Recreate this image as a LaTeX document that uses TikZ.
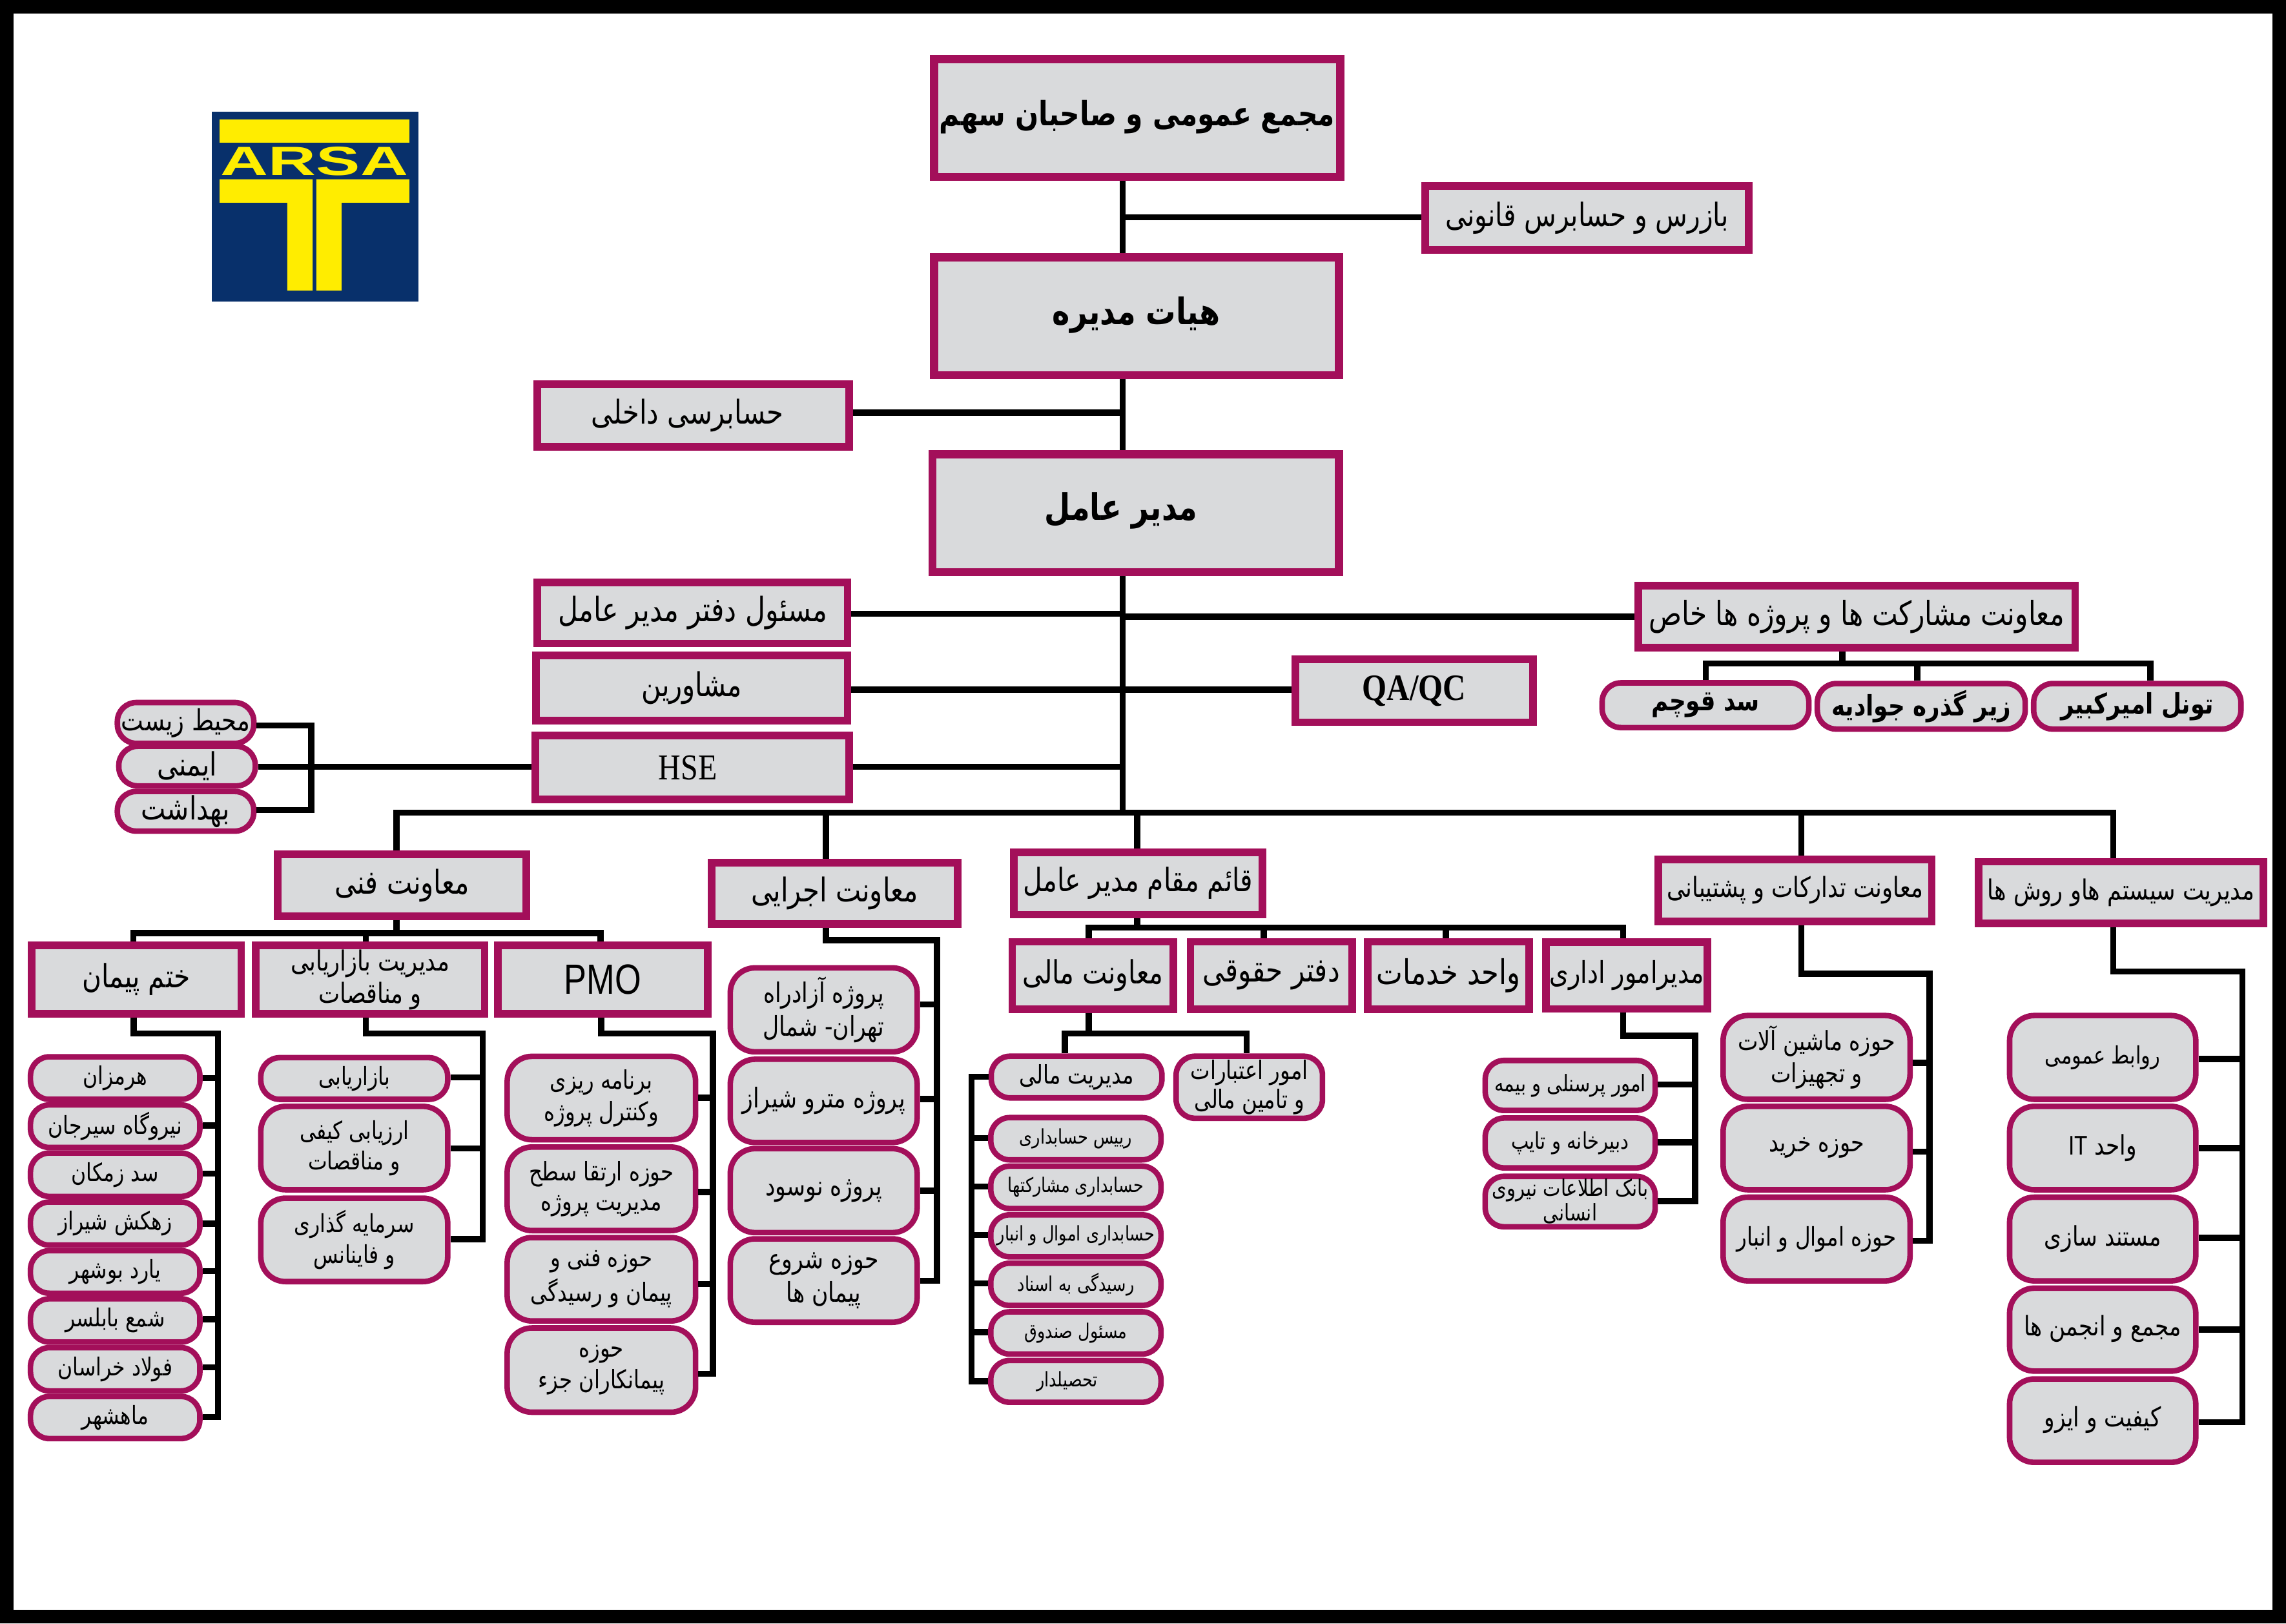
\documentclass[tikz,border=0pt]{standalone}
\usepackage{fontspec}
\setmainfont{Liberation Serif}
\TeXXeTstate=1
\newfontfamily\arabicfont[Script=Arabic,FakeStretch=0.82]{DejaVu Sans}
\newfontfamily\serifcond[FakeStretch=0.85]{Liberation Serif}
\newfontfamily\sanscond[FakeStretch=0.8]{Liberation Sans}
\newfontfamily\logofont{Liberation Sans}
\definecolor{plum}{HTML}{A30F5A}
\definecolor{boxgray}{HTML}{D9DADC}
\definecolor{logoblue}{HTML}{08306B}
\definecolor{logoyellow}{HTML}{FFED00}
\newcommand{\rl}[1]{\beginR #1\endR}
\newcommand{\fs}[1]{\arabicfont\fontsize{#1}{#1}\selectfont}
\newcommand{\dn}[2]{\raisebox{-#1pt}{#2}}
% rectangular box: style, name, x1, y1, x2, y2, text
\newcommand{\rb}[7]{\node[recbox,#1,minimum width={(#5-#3-5.2)*1pt},minimum height={(#6-#4-5.2)*1pt}] (#2) at ({(#3+#5)/2},{(#4+#6)/2}) {#7};}
% rounded box
\newcommand{\pl}[7]{\node[pillbox,#1,minimum width={(#5-#3-3.8)*1pt},minimum height={(#6-#4-3.8)*1pt}] (#2) at ({(#3+#5)/2},{(#4+#6)/2}) {#7};}
% stub from a node's side to a bar
\newcommand{\stubE}[3]{\draw[conn] (#1.east |- 0,#3) -- (#2,#3);}
\newcommand{\stubW}[3]{\draw[conn] (#1.west |- 0,#3) -- (#2,#3);}
\tikzset{
  recbox/.style={draw=plum,fill=boxgray,line width=5.2pt,inner sep=0pt,align=center},
  pillbox/.style={draw=plum,fill=boxgray,line width=3.8pt,inner sep=0pt,align=center,rounded corners=13pt},
  tall/.style={rounded corners=17pt},
  conn/.style={draw=black,line width=4.2pt},
  huge/.style={font=\fs{25}\bfseries,line width=5.6pt},
  fz/.style={font=\fs{#1}},
  big/.style={font=\fs{22.5}},
  mid/.style={font=\fs{19}},
  bolds/.style={font=\fs{19.3}\bfseries},
  small/.style={font=\fs{17}},
  tinier/.style={font=\fs{13.8}}
}
\begin{document}
\begin{tikzpicture}[x=1pt,y=-1pt]
\useasboundingbox (0,0) rectangle (1568,1113.6);
\draw[line width=9.5pt] (4.75,4.75) rectangle (1563.25,1108.85);
% logo
\fill[logoblue] (145.3,76.6) rectangle (287,206.8);
\fill[logoyellow] (150.6,81.8) rectangle (280.8,97.9);
\fill[logoyellow] (150.6,123) -- (214.4,123) -- (214.4,199.3) -- (197,199.3) -- (197,139) -- (150.6,139) -- cycle;
\fill[logoyellow] (280.8,123) -- (217,123) -- (217,199.3) -- (234.3,199.3) -- (234.3,139) -- (280.8,139) -- cycle;
\node[inner sep=0pt,text=logoyellow,font=\logofont\bfseries\fontsize{28}{28}\selectfont] (logotext) at (215.7,110.8) {\scalebox{1.62}[1]{ARSA}};
% top boxes
\rb{huge,font=\fs{22.9}\bfseries}{r1}{638}{38}{922}{124}{\dn{-7}{\rl{مجمع عمومی و صاحبان سهم}}}
\rb{fz=22}{r2}{975}{125}{1202}{174}{\dn{7}{\rl{بازرس و حسابرس قانونی}}}
\rb{huge}{r3}{638}{174}{921}{260}{\dn{-8}{\rl{هیات مدیره}}}
\rb{big}{r4}{366}{261}{585}{309}{\dn{2}{\rl{حسابرسی داخلی}}\hspace{8pt}}
\rb{huge}{r5}{637}{309}{921}{395}{\dn{-9}{\rl{مدیر عامل}}\hspace{20pt}}
\rb{fz=23}{r6}{366}{397}{584}{444}{\dn{7}{\rl{مسئول دفتر مدیر عامل}}}
\rb{big}{r7}{365}{447}{584}{497}{\dn{-5}{\rl{مشاورین}}}
\rb{}{r8}{364.5}{502}{585}{551}{\dn{7}{\serifcond\fontsize{25}{25}\selectfont HSE}\hspace{6pt}}
\rb{}{r9}{886}{449.6}{1054}{498}{\dn{6}{\serifcond\bfseries\fontsize{25.5}{25.5}\selectfont QA/QC}}
\rb{fz=22.8}{r10}{1121}{399}{1426}{447}{\rl{معاونت مشارکت ها و پروژه ها خاص}}
% special project pills
\pl{bolds}{p1}{1097}{466.5}{1242.6}{501}{\dn{3}{\rl{سد قوچم}}}
\pl{bolds}{p2}{1244.6}{467}{1391}{502}{\dn{1}{\rl{زیر گذره جوادیه}}}
\pl{bolds}{p3}{1393}{467}{1539}{502}{\dn{2}{\rl{تونل امیرکبیر}}}
% HSE pills
\pl{fz=20}{h1}{78.6}{480}{176}{511.8}{\rl{محیط زیست}}
\pl{fz=22}{h2}{79.6}{510}{177}{541}{\rl{ایمنی}}
\pl{fz=22}{h3}{78.6}{541}{176}{572}{\rl{بهداشت}}
% second level
\rb{big}{fani}{188}{583.5}{363.7}{631}{\dn{-3}{\rl{معاونت فنی}}}
\rb{big}{ejra}{485.5}{589}{659.6}{636.5}{\rl{معاونت اجرایی}}
\rb{fz=22}{ghaem}{692.8}{582}{868.5}{630}{\rl{قائم مقام مدیر عامل}}
\rb{mid}{tadar}{1134.8}{587}{1327.6}{634.5}{\rl{معاونت تدارکات و پشتیبانی}}
\rb{mid}{sys}{1354.5}{588.5}{1555}{636}{\rl{مدیریت سیستم هاو روش ها}}
% fani children
\rb{fz=22}{khatm}{19}{646}{168}{698}{\rl{ختم پیمان}}
\rb{mid}{bazar}{172.8}{646}{335}{698}{\rl{مدیریت بازاریابی}\\[2pt]\rl{و مناقصات}}
\rb{}{pmo}{339}{646}{488}{698}{\sanscond\fontsize{29}{29}\selectfont PMO}
% khatm pills
\pl{small}{k1}{19}{723}{139}{756}{\rl{هرمزان}}
\pl{small}{k2}{19}{756}{139}{789}{\rl{نیروگاه سیرجان}}
\pl{small}{k3}{19}{789}{139}{822.6}{\rl{سد زمکان}}
\pl{small}{k4}{19}{822.6}{139}{856}{\rl{زهکش شیراز}}
\pl{small}{k5}{19}{856}{139}{889}{\rl{یارد بوشهر}}
\pl{small}{k6}{19}{889}{139}{922.5}{\rl{شمع بابلسر}}
\pl{small}{k7}{19}{922.5}{139}{956}{\rl{فولاد خراسان}}
\pl{small}{k8}{19}{956}{139}{988.7}{\rl{ماهشهر}}
% bazar children
\pl{small}{b1}{177}{723.6}{309}{756}{\rl{بازاریابی}}
\pl{small,tall}{b2}{177}{757}{309}{818}{\rl{ارزیابی کیفی}\\[3pt]\rl{و مناقصات}}
\pl{small,tall}{b3}{177}{820}{309}{881}{\rl{سرمایه گذاری}\\[3pt]\rl{و فاینانس}}
% pmo children
\pl{fz=17.5,tall}{m1}{346}{722.7}{479}{783.7}{\rl{برنامه ریزی}\\[3pt]\rl{وکنترل پروژه}}
\pl{fz=17.5,tall}{m2}{346}{784.9}{479}{846}{\rl{حوزه ارتقا سطح}\\[3pt]\rl{مدیریت پروژه}}
\pl{fz=17.5,tall}{m3}{346}{847}{479}{908}{\rl{حوزه فنی و}\\[3pt]\rl{پیمان و رسیدگی}}
\pl{fz=17.5,tall}{m4}{346}{909}{479}{970.6}{\rl{حوزه}\\[3pt]\rl{پیمانکاران جزء}}
% ejra children
\pl{fz=18.7,tall}{e1}{499}{662}{631}{723.4}{\rl{پروژه آزادراه}\\[3pt]\rl{تهران- شمال}}
\pl{fz=18.7,tall}{e2}{499}{724.7}{631}{785.6}{\dn{-2}{\rl{پروژه مترو شیراز}}}
\pl{fz=18.7,tall}{e3}{499}{786}{631}{847.4}{\dn{-1}{\rl{پروژه نوسود}}}
\pl{fz=18.7,tall}{e4}{499}{847.9}{631}{908.9}{\rl{حوزه شروع}\\[3pt]\rl{پیمان ها}}
% ghaem children
\rb{fz=22}{mali}{691.7}{643.4}{807.5}{694.8}{\rl{معاونت مالی}}
\rb{fz=22.7}{hoghugh}{814}{643.4}{930}{694.8}{\rl{دفتر حقوقی}}
\rb{fz=23.4}{khadamat}{935.6}{643.4}{1051.6}{694.8}{\rl{واحد خدمات}}
\rb{fz=20.5}{edari}{1057.7}{643.6}{1173.8}{694.7}{\rl{مدیرامور اداری}}
% mali children
\pl{fz=17.5}{f0}{678}{722.6}{798.9}{755}{\rl{مدیریت مالی}}
\pl{fz=17.5}{f9}{804.8}{722.6}{909}{769}{\rl{امور اعتبارات}\\[1pt]\rl{و تامین مالی}}
\pl{tinier}{f1}{677.7}{764.7}{798.2}{797.5}{\rl{رییس حسابداری}}
\pl{tinier}{f2}{677.7}{798}{798.2}{830.9}{\rl{حسابداری مشارکتها}}
\pl{tinier}{f3}{677.7}{831.4}{798.2}{864}{\rl{حسابداری اموال و انبار}}
\pl{tinier}{f4}{677.7}{864.6}{798.2}{897.4}{\rl{رسیدگی به اسناد}}
\pl{tinier}{f5}{677.7}{897.9}{798.2}{930.7}{\rl{مسئول صندوق}}
\pl{tinier}{f6}{677.7}{931.3}{798.2}{963.8}{\rl{تحصیلدار}\hspace{12pt}}
% edari children
\pl{fz=15.7}{a1}{1016.8}{725.5}{1137.2}{763.6}{\rl{امور پرسنلی و بیمه}}
\pl{fz=15.7}{a2}{1016.8}{765}{1137.2}{803}{\rl{دبیرخانه و تایپ}}
\pl{fz=15.7}{a3}{1016.8}{805}{1137.2}{843.4}{\rl{بانک اطلاعات نیروی}\\[0pt]\rl{انسانی}}
% tadar children
\pl{fz=18,tall}{t1}{1180}{694.7}{1312}{756}{\rl{حوزه ماشین آلات}\\[3pt]\rl{و تجهیزات}}
\pl{fz=18,tall}{t2}{1180}{757}{1312}{818}{\rl{حوزه خرید}}
\pl{fz=17.6,tall}{t3}{1180}{819.3}{1312}{880.5}{\rl{حوزه اموال و انبار}}
% sys children
\pl{fz=16.5,tall}{s1}{1376.5}{694.7}{1508}{756}{\dn{2}{\rl{روابط عمومی}}}
\pl{fz=18.5,tall}{s2}{1376.5}{757}{1508}{818}{\rl{واحد \beginL{\sanscond IT}\endL}}
\pl{fz=18.5,tall}{s3}{1376.5}{819.3}{1508}{880.5}{\rl{مستند سازی}}
\pl{fz=18.5,tall}{s4}{1376.5}{881.7}{1508}{942.4}{\dn{-6}{\rl{مجمع و انجمن ها}}}
\pl{fz=18.5,tall}{s5}{1376.5}{944}{1508}{1005}{\dn{-6}{\rl{کیفیت و ایزو}}}
% junctions on the main trunk
\coordinate (tr) at (770,557.5);
\coordinate (j2) at (770,149);
\coordinate (j4) at (770,283);
\coordinate (j6) at (770,421);
\coordinate (j10) at (770,423);
\coordinate (j7) at (770,473);
\coordinate (j8) at (770,526);
\draw[conn] (r1.south -| tr) -- (r3.north -| tr);
\draw[conn] (r3.south -| tr) -- (r5.north -| tr);
\draw[conn] (r5.south -| tr) -- (tr);
\draw[conn] (r2.west |- j2) -- (j2);
\draw[conn] (r4.east |- j4) -- (j4);
\draw[conn] (r6.east |- j6) -- (j6);
\draw[conn] (r10.west |- j10) -- (j10);
\draw[conn] (r7.east |- j7) -- (r9.west |- j7);
\draw[conn] (r8.east |- j8) -- (j8);
% HSE bracket
\coordinate (hb) at (213.5,526);
\draw[conn] (h2.east |- hb) -- (r8.west |- hb);
\draw[conn] (h1.east |- 0,497.6) -- (213.5,497.6) -- (213.5,555.6) -- (h3.east |- 0,555.6);
% special projects bus
\draw[conn] (r10.south -| 1263.6,0) -- (1263.6,455);
\draw[conn] (p1.north -| 1170,0) -- (1170,455) -- (1475,455) -- (p3.north -| 1475,0);
\draw[conn] (p2.north -| 1315,0) -- (1315,455);
% main bus
\coordinate (bl) at (272,557.5);
\coordinate (br) at (1449.5,557.5);
\draw[conn] (fani.north -| bl) -- (bl) -- (br) -- (sys.north -| br);
\draw[conn] (ejra.north -| 566.5,0) -- (566.5,557.5);
\draw[conn] (ghaem.north -| 780,0) -- (780,557.5);
\draw[conn] (tadar.north -| 1235.6,0) -- (1235.6,557.5);
% fani bus
\draw[conn] (fani.south -| bl) -- (272,640);
\draw[conn] (khatm.north -| 91.5,0) -- (91.5,640) -- (412,640) -- (pmo.north -| 412,0);
\draw[conn] (bazar.north -| 251,0) -- (251,640);
% khatm bracket
\draw[conn] (khatm.south -| 91.7,0) -- (91.7,709) -- (149.5,709) -- (149.5,972) -- (k8.east |- 0,972);
\stubE{k1}{149.5}{739.5}\stubE{k2}{149.5}{772}\stubE{k3}{149.5}{805}\stubE{k4}{149.5}{839.4}
\stubE{k5}{149.5}{872}\stubE{k6}{149.5}{905}\stubE{k7}{149.5}{938}
% bazar bracket
\draw[conn] (bazar.south -| 251,0) -- (251,709) -- (331,709) -- (331,850) -- (b3.east |- 0,850);
\stubE{b1}{331}{739}\stubE{b2}{331}{787.8}
% pmo bracket
\draw[conn] (pmo.south -| 412.4,0) -- (412.4,709) -- (489,709) -- (489,942.4) -- (m4.east |- 0,942.4);
\stubE{m1}{489}{753}\stubE{m2}{489}{817.6}\stubE{m3}{489}{880.7}
% ejra bracket
\draw[conn] (ejra.south -| 566.5,0) -- (566.5,645) -- (642.8,645) -- (642.8,878.5) -- (e4.east |- 0,878.5);
\stubE{e1}{642.8}{689}\stubE{e2}{642.8}{753.9}\stubE{e3}{642.8}{816.8}
% ghaem bus
\draw[conn] (ghaem.south -| 780,0) -- (780,636.3);
\draw[conn] (mali.north -| 746.7,0) -- (746.7,636.3) -- (1113.4,636.3) -- (edari.north -| 1113.4,0);
\draw[conn] (hoghugh.north -| 866.8,0) -- (866.8,636.3);
\draw[conn] (khadamat.north -| 991.8,0) -- (991.8,636.3);
% mali bus and bracket
\draw[conn] (mali.south -| 746.7,0) -- (746.7,708.8);
\draw[conn] (f0.north -| 730.4,0) -- (730.4,708.8) -- (855,708.8) -- (f9.north -| 855,0);
\draw[conn] (f0.west |- 0,738.5) -- (666.5,738.5) -- (666.5,947.4) -- (f6.west |- 0,947.4);
\stubW{f1}{666.5}{780.7}\stubW{f2}{666.5}{813.8}\stubW{f3}{666.5}{847}\stubW{f4}{666.5}{880.4}\stubW{f5}{666.5}{913.7}
% edari bracket
\draw[conn] (edari.south -| 1113.4,0) -- (1113.4,710.4) -- (1162.6,710.4) -- (1162.6,823.9) -- (a3.east |- 0,823.9);
\stubE{a1}{1162.6}{743.9}\stubE{a2}{1162.6}{783.6}
% tadar bracket
\draw[conn] (tadar.south -| 1235.6,0) -- (1235.6,668) -- (1323.5,668) -- (1323.5,851) -- (t3.east |- 0,851);
\stubE{t1}{1323.5}{729}\stubE{t2}{1323.5}{790}
% sys bracket
\draw[conn] (sys.south -| 1449.5,0) -- (1449.5,666.5) -- (1538,666.5) -- (1538,975.5) -- (s5.east |- 0,975.5);
\stubE{s1}{1538}{726.4}\stubE{s2}{1538}{787.5}\stubE{s3}{1538}{849}\stubE{s4}{1538}{912}
\end{tikzpicture}
\end{document}
